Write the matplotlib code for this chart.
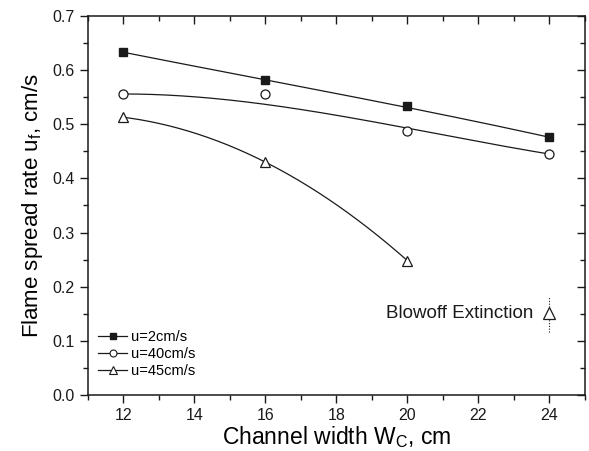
#!/usr/bin/env python3
"""Flame spread rate vs channel width for three flow velocities."""

from math import comb

import numpy as np
import matplotlib
matplotlib.use("Agg")
import matplotlib.pyplot as plt
from matplotlib.ticker import MultipleLocator

plt.rcParams["font.family"] = ["Liberation Sans", "DejaVu Sans"]
plt.rcParams["mathtext.fontset"] = "custom"
plt.rcParams["mathtext.rm"] = "Liberation Sans"
plt.rcParams["mathtext.it"] = "Liberation Sans"

# data
width_2 = [12, 16, 20, 24]
uf_2 = [0.633, 0.581, 0.534, 0.476]

width_40 = [12, 16, 20, 24]
uf_40 = [0.556, 0.556, 0.488, 0.445]

width_45 = [12, 16, 20]
uf_45 = [0.513, 0.430, 0.248]

blowoff_w = [24]
blowoff_uf = [0.151]

labels = ["u=2cm/s", "u=40cm/s", "u=45cm/s"]


def bspline(xs, ys, n=200):
    # Bezier with the points as control polygon (like Origin's B-spline line)
    xs = np.asarray(xs, float)
    ys = np.asarray(ys, float)
    k = len(xs) - 1
    t = np.linspace(0, 1, n)
    bx = np.zeros(n)
    by = np.zeros(n)
    for i in range(k + 1):
        b = comb(k, i) * t ** i * (1 - t) ** (k - i)
        bx += b * xs[i]
        by += b * ys[i]
    return bx, by


def quad_fit(xs, ys, n=200):
    c = np.polyfit(xs, ys, 2)
    xx = np.linspace(min(xs), max(xs), n)
    return xx, np.polyval(c, xx)


fig = plt.figure(figsize=(5.89, 4.51), dpi=100)
ax = fig.add_axes([0.1494, 0.1242, 0.8438, 0.8403])

lw = 0.9
c = "#1a1a1a"

x, y = bspline(width_2, uf_2)
ax.plot(x, y, color=c, lw=lw)
x, y = bspline(width_40, uf_40)
ax.plot(x, y, color=c, lw=lw)
x, y = quad_fit(width_45, uf_45)
ax.plot(x, y, color=c, lw=lw)

ax.plot(width_2, uf_2, "s", ms=6, mfc=c, mec=c, ls="none")
ax.plot(width_40, uf_40, "o", ms=6.5, mfc="white", mec=c, mew=0.9, ls="none")
ax.plot(width_45, uf_45, "^", ms=7.5, mfc="white", mec=c, mew=0.9, ls="none")

# legend handles
h1, = ax.plot([], [], "-s", color=c, lw=lw, ms=5, mfc=c)
h2, = ax.plot([], [], "-o", color=c, lw=lw, ms=5, mfc="white", mew=0.8)
h3, = ax.plot([], [], "-^", color=c, lw=lw, ms=5.5, mfc="white", mew=0.8)
ax.legend([h1, h2, h3], labels, loc="lower left", frameon=False,
          fontsize=10.5, handlelength=2.0, handletextpad=0.3,
          labelspacing=0.2, borderaxespad=0.0, borderpad=0.0,
          bbox_to_anchor=(0.02, 0.045))

# blowoff extinction marker
ax.vlines(blowoff_w, [u - 0.035 for u in blowoff_uf], [u + 0.03 for u in blowoff_uf],
          colors=c, linestyles=(0, (1, 1.5)), lw=0.8)
ax.plot(blowoff_w, blowoff_uf, "^", ms=8.5, mfc="white", mec=c, mew=0.9)
ax.text(23.55, blowoff_uf[0], "Blowoff Extinction", ha="right", va="center",
        fontsize=13.5, color=c)

ax.set_xlim(11, 25)
ax.set_ylim(0.0, 0.7)
ax.xaxis.set_major_locator(MultipleLocator(2))
ax.xaxis.set_minor_locator(MultipleLocator(1))
ax.yaxis.set_major_locator(MultipleLocator(0.1))
ax.yaxis.set_minor_locator(MultipleLocator(0.05))
ax.yaxis.set_major_formatter(plt.FormatStrFormatter("%.1f"))

ax.tick_params(axis="both", which="both", top=True, right=True, labelsize=11.5,
               colors=c, width=1.0, direction="out")
ax.tick_params(which="major", length=6)
ax.tick_params(which="minor", length=3.5)
# top and right ticks point inward
for t in ax.xaxis.get_major_ticks() + ax.xaxis.get_minor_ticks():
    t.tick2line.set_marker(matplotlib.markers.TICKDOWN)
for t in ax.yaxis.get_major_ticks() + ax.yaxis.get_minor_ticks():
    t.tick2line.set_marker(matplotlib.markers.TICKLEFT)

for s in ax.spines.values():
    s.set_linewidth(1.1)
    s.set_color(c)

ax.set_xlabel("Channel width W$_\\mathregular{C}$, cm", fontsize=16.5, labelpad=1)
ax.set_ylabel("Flame spread rate u$_\\mathregular{f}$, cm/s", fontsize=16, labelpad=5)

fig.savefig("out.png", dpi=100)
